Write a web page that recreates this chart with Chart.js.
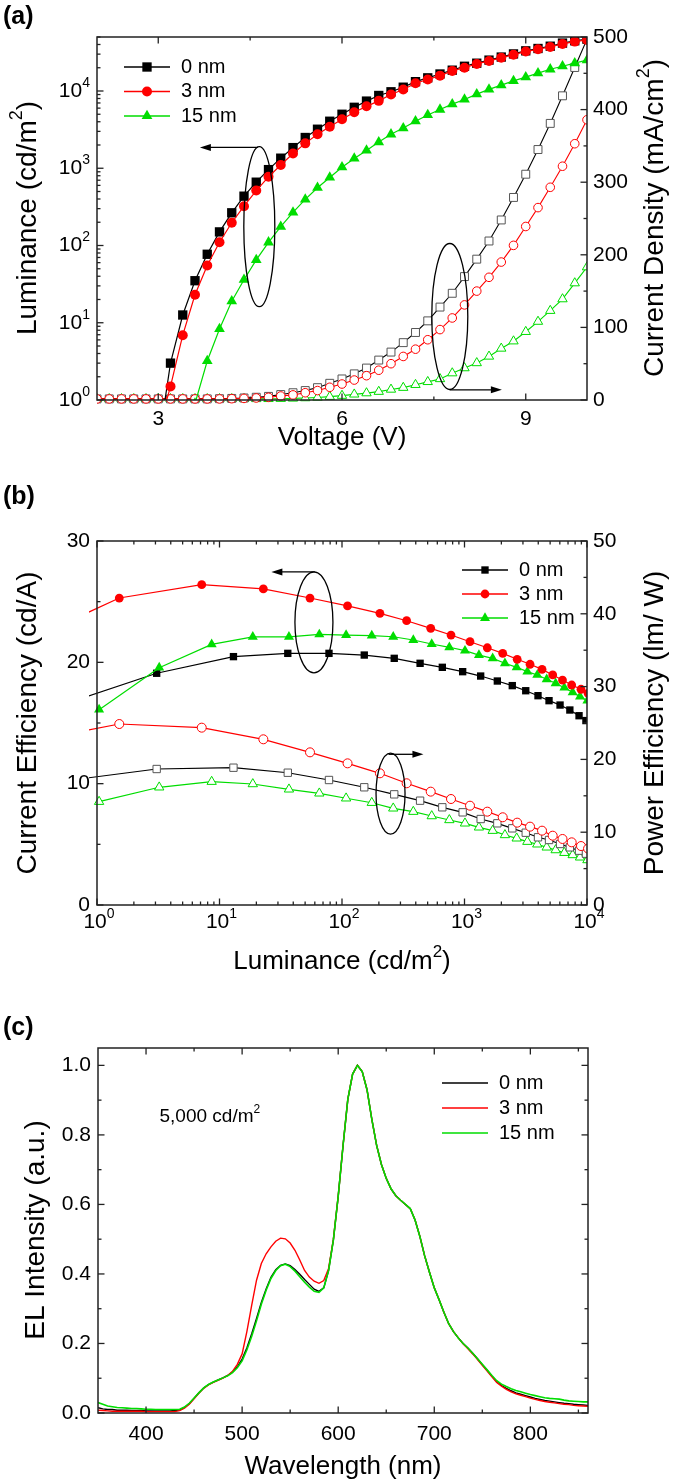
<!DOCTYPE html>
<html>
<head>
<meta charset="utf-8">
<script src="https://cdn.jsdelivr.net/npm/chart.js@4.4.1/dist/chart.umd.min.js"></script>
<style>
  html, body { margin: 0; padding: 0; background: #fff; }
  body { width: 675px; height: 1482px; position: relative; overflow: hidden; }
  canvas { position: absolute; left: 0; }
</style>
</head>
<body>
<canvas id="chartA" width="675" height="470" style="top:0px"></canvas>
<canvas id="chartB" width="675" height="530" style="top:470px"></canvas>
<canvas id="chartC" width="675" height="482" style="top:1000px"></canvas>
<script>
// ---- (a) voltage sweep -------------------------------------------------
var voltage = [2.0, 2.2, 2.4, 2.6, 2.8, 3.0, 3.2, 3.4, 3.6, 3.8, 4.0, 4.2, 4.4, 4.6, 4.8,
  5.0, 5.2, 5.4, 5.6, 5.8, 6.0, 6.2, 6.4, 6.6, 6.8, 7.0, 7.2, 7.4, 7.6, 7.8,
  8.0, 8.2, 8.4, 8.6, 8.8, 9.0, 9.2, 9.4, 9.6, 9.8, 10.0];

// luminance (cd/m2), 0 nm and 3 nm start at 3.0 V, 15 nm at 3.6 V
var lum0 = [0.26, 3.0, 12.6, 35, 77, 150, 265, 435, 660, 960, 1350, 1850, 2500, 3200, 4060,
  5000, 6150, 7400, 8750, 9770, 11200, 13200, 14800, 16600, 18600, 20900, 22900, 25100,
  27500, 30200, 33100, 35500, 38000, 41700, 44700, 46800];
var lum3 = [0.4, 1.5, 6.9, 23, 55, 110, 197, 323, 515, 775, 1100, 1550, 2100, 2750, 3450,
  4300, 5300, 6330, 7450, 9020, 10470, 12600, 14100, 15800, 18200, 20000, 22400, 24500,
  26900, 29500, 32400, 34700, 37200, 40700, 43600, 45700];
var lum15 = [0.9, 3.2, 8.3, 19, 36, 65, 110, 175, 268, 395, 560, 760, 1030, 1340, 1700,
  2180, 2750, 3310, 4070, 4900, 5750, 6760, 7760, 9120, 10500, 11900, 13500, 15100,
  17000, 19100, 20900, 22900, 25100];

// current density (mA/cm2)
var cd0 = [1.5, 1.5, 1.5, 1.5, 1.5, 1.5, 1.5, 1.5, 1.5, 1.5, 1.8, 2.2, 2.8, 3.8, 5,
  7.5, 10, 13, 17, 23, 29, 36, 44, 55, 66, 79, 93, 109, 128, 147,
  170, 194, 219, 248, 279, 311, 345, 381, 419, 458, 497];
var cd3 = [1.5, 1.5, 1.5, 1.5, 1.5, 1.5, 1.5, 1.5, 1.5, 1.5, 1.5, 1.8, 2.2, 2.8, 3.7,
  5.5, 7, 10, 13, 17.5, 22, 27.5, 33.5, 41, 50, 60, 70, 83, 97, 113,
  131, 150, 169, 190, 213, 239, 265, 293, 322, 353, 386];
var cd15 = [1.5, 1.5, 1.5, 1.5, 1.5, 1.5, 1.5, 1.5, 1.5, 1.5, 1.5, 1.5, 1.5, 1.5, 1.6,
  1.8, 2.2, 2.7, 3.5, 4.6, 6, 7.8, 9.5, 11.5, 14.5, 17, 21, 25, 29, 37,
  44, 51, 60, 71, 81, 94, 108, 123, 139, 161, 183];

// ---- (b) efficiencies vs luminance ----------------------------------------
var effLum0 = [0.26, 3.07, 13.0, 36.1, 78.3, 152, 267, 434, 659, 966, 1355, 1854, 2455,
  3162, 3981, 4898, 6026, 7244, 8610, 9800];
var ce0 = [15.5, 19.1, 20.47, 20.74, 20.74, 20.6, 20.33, 19.92, 19.59, 19.23, 18.87, 18.46,
  18.08, 17.66, 17.25, 16.84, 16.48, 16.07, 15.6, 15.2];
var pe0 = [16.35, 18.68, 18.86, 18.17, 17.17, 16.17, 15.2, 14.33, 13.42, 12.73, 11.81, 11.22,
  10.53, 9.93, 9.3, 8.93, 8.38, 7.92, 7.46, 7.05];

var effLum3 = [0.4, 1.52, 7.16, 22.8, 54.8, 111, 204, 337, 530, 776, 1109, 1535, 2051,
  2692, 3428, 4295, 5248, 6310, 7499, 8933, 10200];
var ce3 = [22.6, 25.3, 26.4, 26.05, 25.3, 24.65, 24.04, 23.43, 22.8, 22.25, 21.7, 21.2,
  20.74, 20.25, 19.84, 19.42, 18.96, 18.54, 18.13, 17.78, 17.45];
var pe3 = [22.96, 24.86, 24.36, 22.76, 20.97, 19.46, 18.09, 16.72, 15.57, 14.56, 13.64, 12.82,
  12.05, 11.31, 10.76, 10.21, 9.52, 9.07, 8.61, 8.10, 7.75];

var effLum15 = [1.04, 3.22, 8.63, 18.7, 36.9, 65.3, 108, 175, 262, 382, 540, 752, 1009,
  1312, 1698, 2138, 2667, 3258, 3926, 4688, 5546, 6531, 7638, 8770, 10080];
var ce15 = [16.1, 19.56, 21.48, 22.1, 22.1, 22.3, 22.25, 22.2, 22.11, 21.84, 21.51, 21.24,
  20.96, 20.6, 20.33, 19.92, 19.59, 19.23, 18.96, 18.6, 18.27, 17.91, 17.53, 17.17, 16.84];
var pe15 = [14.19, 16.17, 16.94, 16.62, 15.89, 15.34, 14.66, 14.05, 13.28, 12.82, 12.22, 11.68,
  11.22, 10.67, 10.21, 9.62, 9.16, 8.7, 8.34, 7.92, 7.55, 7.18, 6.87, 6.55, 6.18];

// ---- (c) EL spectra at 5,000 cd/m2 -----------------------------------------
var wavelength = [350, 355, 360, 365, 370, 375, 380, 385, 390, 395,
  400, 405, 410, 415, 420, 425, 430, 435, 440, 445,
  450, 455, 460, 465, 470, 475, 480, 485, 490, 495,
  500, 505, 510, 515, 520, 525, 530, 535, 540, 545,
  550, 555, 560, 565, 570, 575, 580, 585, 590, 595,
  600, 605, 610, 615, 620, 625, 630, 635, 640, 645,
  650, 655, 660, 665, 670, 675, 680, 685, 690, 695,
  700, 705, 710, 715, 720, 725, 730, 735, 740, 745,
  750, 755, 760, 765, 770, 775, 780, 785, 790, 795,
  800, 805, 810, 815, 820, 825, 830, 835, 840, 845,
  850, 855, 860];
var el0 = [0.015, 0.012, 0.010, 0.010, 0.008, 0.008, 0.008, 0.007, 0.007, 0.007,
  0.006, 0.006, 0.006, 0.006, 0.006, 0.006, 0.007, 0.009, 0.016, 0.027,
  0.042, 0.058, 0.072, 0.082, 0.089, 0.095, 0.101, 0.108, 0.118, 0.133,
  0.155, 0.188, 0.228, 0.272, 0.318, 0.357, 0.390, 0.412, 0.425, 0.429,
  0.424, 0.413, 0.399, 0.384, 0.370, 0.356, 0.350, 0.360, 0.410, 0.498,
  0.623, 0.768, 0.902, 0.975, 1.000, 0.982, 0.930, 0.845, 0.770, 0.715,
  0.675, 0.645, 0.625, 0.612, 0.600, 0.588, 0.555, 0.508, 0.452, 0.405,
  0.360, 0.326, 0.290, 0.257, 0.234, 0.216, 0.200, 0.187, 0.172, 0.156,
  0.139, 0.123, 0.106, 0.090, 0.079, 0.071, 0.064, 0.058, 0.054, 0.050,
  0.046, 0.042, 0.039, 0.036, 0.034, 0.032, 0.030, 0.028, 0.027, 0.025,
  0.024, 0.023, 0.022];
var el3 = [0.008, 0.007, 0.006, 0.005, 0.005, 0.005, 0.005, 0.005, 0.005, 0.005,
  0.004, 0.004, 0.004, 0.004, 0.004, 0.004, 0.004, 0.007, 0.014, 0.025,
  0.041, 0.057, 0.071, 0.081, 0.088, 0.094, 0.100, 0.108, 0.120, 0.140,
  0.170, 0.235, 0.310, 0.382, 0.430, 0.458, 0.478, 0.494, 0.503, 0.501,
  0.489, 0.468, 0.440, 0.410, 0.391, 0.379, 0.373, 0.381, 0.416, 0.500,
  0.623, 0.768, 0.902, 0.975, 1.000, 0.982, 0.930, 0.845, 0.770, 0.715,
  0.675, 0.645, 0.625, 0.612, 0.600, 0.588, 0.555, 0.508, 0.452, 0.405,
  0.360, 0.326, 0.290, 0.257, 0.234, 0.216, 0.199, 0.185, 0.170, 0.154,
  0.137, 0.121, 0.104, 0.088, 0.077, 0.068, 0.061, 0.055, 0.051, 0.047,
  0.043, 0.039, 0.036, 0.033, 0.031, 0.029, 0.027, 0.025, 0.024, 0.022,
  0.021, 0.020, 0.019];
var el15 = [0.030, 0.025, 0.020, 0.018, 0.016, 0.015, 0.014, 0.013, 0.013, 0.012,
  0.011, 0.011, 0.010, 0.010, 0.010, 0.010, 0.010, 0.011, 0.017, 0.028,
  0.043, 0.058, 0.072, 0.082, 0.089, 0.095, 0.101, 0.107, 0.116, 0.130,
  0.150, 0.182, 0.221, 0.265, 0.313, 0.353, 0.387, 0.410, 0.424, 0.428,
  0.421, 0.408, 0.392, 0.376, 0.362, 0.350, 0.347, 0.360, 0.410, 0.498,
  0.623, 0.768, 0.902, 0.975, 1.000, 0.982, 0.930, 0.845, 0.770, 0.715,
  0.675, 0.645, 0.625, 0.612, 0.600, 0.588, 0.555, 0.508, 0.452, 0.405,
  0.360, 0.326, 0.290, 0.257, 0.234, 0.216, 0.200, 0.187, 0.172, 0.156,
  0.140, 0.124, 0.108, 0.093, 0.083, 0.076, 0.070, 0.065, 0.061, 0.057,
  0.053, 0.050, 0.047, 0.044, 0.042, 0.041, 0.040, 0.037, 0.035, 0.034,
  0.033, 0.032, 0.032];

// tick values
var voltTicks = [3, 6, 9];
var decades = [1, 10, 100, 1000, 10000];
var decadeLabels = ['10^0', '10^1', '10^2', '10^3', '10^4'];
var cdTicks = [0, 100, 200, 300, 400, 500];
var ceTicks = [0, 10, 20, 30];
var peTicks = [0, 10, 20, 30, 40, 50];
var elTicks = [0, 0.2, 0.4, 0.6, 0.8, 1.0];
var waveTicks = [400, 500, 600, 700, 800];

var FONT = '"Liberation Sans", Arial, Helvetica, sans-serif';
var BLACK = '#000000', RED = '#ff0000', GREEN = '#00dd00', GREY = '#555555';
var YTITLE = 28, XTITLE = 26;
Chart.defaults.font.family = FONT;

function pts(xs, ys) {
    return ys.map(function(y, i) { return {x: xs[i], y: y}; });
}

function fixWidth(w) { return function(s) { s.width = w; }; }
function fixHeight(h) { return function(s) { s.height = h; }; }
function setTicks(list) {
    return function(s) { s.ticks = list.map(function(v) { return {value: v}; }); };
}

// minor log ticks 2..9 in each decade up to a limit
function logMinor(from, to) {
    var out = [];
    for (var d = from; d < to; d *= 10) {
        for (var k = 2; k <= 9; k++) {
            if (d * k <= to) out.push(d * k);
        }
    }
    return out;
}

function fontStr(size, bold) {
    return (bold ? 'bold ' : '') + size + 'px ' + FONT;
}

// text with '^x' superscripts
function drawRich(ctx, text, x, y, size, align, bold) {
    var parts = [], buf = '';
    for (var i = 0; i < text.length; i++) {
        if (text[i] === '^') {
            if (buf) parts.push({t: buf, sup: false});
            buf = '';
            parts.push({t: text[i + 1], sup: true});
            i++;
        } else {
            buf += text[i];
        }
    }
    if (buf) parts.push({t: buf, sup: false});
    var w = 0;
    parts.forEach(function(p) {
        ctx.font = fontStr(p.sup ? Math.round(size * 0.65) : size, bold);
        p.w = ctx.measureText(p.t).width;
        w += p.w;
    });
    var cx = align === 'center' ? x - w / 2 : (align === 'right' ? x - w : x);
    ctx.textAlign = 'left';
    ctx.textBaseline = 'middle';
    parts.forEach(function(p) {
        ctx.font = fontStr(p.sup ? Math.round(size * 0.65) : size, bold);
        ctx.fillText(p.t, cx, p.sup ? y - size * 0.38 : y);
        cx += p.w;
    });
}

function drawMarker(ctx, style, x, y, r) {
    ctx.beginPath();
    if (style === 'rect') {
        var s = Math.SQRT1_2 * r;
        ctx.rect(x - s, y - s, 2 * s, 2 * s);
    } else if (style === 'triangle') {
        ctx.moveTo(x, y - r);
        ctx.lineTo(x + Math.sin(2 * Math.PI / 3) * r, y + 0.5 * r);
        ctx.lineTo(x - Math.sin(2 * Math.PI / 3) * r, y + 0.5 * r);
        ctx.closePath();
    } else {
        ctx.arc(x, y, r, 0, Math.PI * 2);
    }
    ctx.fill();
}

// frame, inward ticks, log labels, notes, legend and titles for each panel
var decor = {};

var panelDecor = {
    id: 'panelDecor',
    afterDatasetsDraw: function(chart) {
        var d = decor[chart.canvas.id];
        if (!d) {
            return;
        }
        var ctx = chart.ctx, a = chart.chartArea;
        ctx.save();
        ctx.strokeStyle = '#222';
        ctx.fillStyle = '#000';
        ctx.lineWidth = 1.3;

        d.marks.forEach(function(m) {
            var s = chart.scales[m.scale];
            [[m.major, 6.5], [m.minor, 3.5]].forEach(function(pair) {
                pair[0].forEach(function(v) {
                    var p = s.getPixelForValue(v);
                    m.sides.forEach(function(side) {
                        ctx.beginPath();
                        if (side === 'bottom') { ctx.moveTo(p, a.bottom); ctx.lineTo(p, a.bottom - pair[1]); }
                        if (side === 'top') { ctx.moveTo(p, a.top); ctx.lineTo(p, a.top + pair[1]); }
                        if (side === 'left') { ctx.moveTo(a.left, p); ctx.lineTo(a.left + pair[1], p); }
                        if (side === 'right') { ctx.moveTo(a.right, p); ctx.lineTo(a.right - pair[1], p); }
                        ctx.stroke();
                    });
                });
            });
        });

        ctx.lineWidth = 1.5;
        ctx.strokeRect(a.left, a.top, a.right - a.left, a.bottom - a.top);

        // log-axis labels with superscripts
        (d.logLabels || []).forEach(function(l) {
            var s = chart.scales[l.scale];
            l.values.forEach(function(v, i) {
                var p = s.getPixelForValue(v);
                if (l.side === 'left') {
                    drawRich(ctx, l.texts[i], a.left - 7, p, 21, 'right');
                } else {
                    drawRich(ctx, l.texts[i], p + 2, a.bottom + 17, 21, 'center');
                }
            });
        });

        // ellipses and arrows that point each group to its axis
        ctx.lineWidth = 1.3;
        ctx.strokeStyle = '#000';
        (d.ellipses || []).forEach(function(e) {
            var cx = chart.scales[e.xs].getPixelForValue(e.x);
            var cy = chart.scales[e.ys].getPixelForValue(e.y);
            ctx.beginPath();
            ctx.ellipse(cx, cy, e.rx, e.ry, 0, 0, Math.PI * 2);
            ctx.stroke();
        });
        (d.arrows || []).forEach(function(r) {
            var xs = chart.scales[r.xs], ys = chart.scales[r.ys];
            var x1 = xs.getPixelForValue(r.x1), x2 = xs.getPixelForValue(r.x2);
            var y = ys.getPixelForValue(r.y);
            var dir = x2 > x1 ? 1 : -1;
            ctx.beginPath();
            ctx.moveTo(x1, y);
            ctx.lineTo(x2 - dir * 8, y);
            ctx.stroke();
            ctx.beginPath();
            ctx.moveTo(x2, y);
            ctx.lineTo(x2 - dir * 11, y - 3.5);
            ctx.lineTo(x2 - dir * 11, y + 3.5);
            ctx.closePath();
            ctx.fill();
        });

        (d.notes || []).forEach(function(n) {
            var x = chart.scales[n.xs].getPixelForValue(n.x);
            var y = chart.scales[n.ys].getPixelForValue(n.y);
            drawRich(ctx, n.text, x, y, n.size, 'left');
        });

        // legend
        var lg = d.legend;
        lg.items.forEach(function(it, i) {
            var y = lg.y + i * lg.gap;
            ctx.strokeStyle = it.color;
            ctx.lineWidth = it.width || 1.3;
            ctx.beginPath();
            ctx.moveTo(lg.x0, y);
            ctx.lineTo(lg.x1, y);
            ctx.stroke();
            if (it.style) {
                ctx.fillStyle = it.color;
                drawMarker(ctx, it.style, (lg.x0 + lg.x1) / 2, y, it.r);
            }
            ctx.fillStyle = '#000';
            drawRich(ctx, it.label, lg.tx, y, 20, 'left');
        });

        // panel letter and axis titles
        d.texts.forEach(function(t) {
            ctx.save();
            ctx.translate(t.x, t.y);
            if (t.rot) ctx.rotate(t.rot);
            drawRich(ctx, t.text, 0, 0, t.size, t.align || 'center', t.bold);
            ctx.restore();
        });
        ctx.restore();
    }
};

function baseOptions(padTop, padRight) {
    return {
        responsive: false,
        animation: false,
        devicePixelRatio: 1,
        layout: {padding: {top: padTop, left: 0, right: padRight, bottom: 0}},
        plugins: {legend: {display: false}, tooltip: {enabled: false}},
        elements: {line: {tension: 0}}
    };
}

var tickFont = {family: FONT, size: 21};
var noGrid = {display: false, drawTicks: false};

// ================= (a) =================
decor.chartA = {
    marks: [
        {scale: 'x', major: voltTicks, minor: [4.5, 7.5], sides: ['bottom', 'top']},
        {scale: 'yL', major: decades, minor: logMinor(1, 50000), sides: ['left']},
        {scale: 'yR', major: cdTicks, minor: [50, 150, 250, 350, 450], sides: ['right']}
    ],
    logLabels: [{scale: 'yL', values: decades, texts: decadeLabels, side: 'left'}],
    ellipses: [
        {xs: 'x', ys: 'yL', x: 4.65, y: 175, rx: 15.5, ry: 80},
        {xs: 'x', ys: 'yR', x: 7.76, y: 115, rx: 18, ry: 73}
    ],
    arrows: [
        {xs: 'x', ys: 'yL', x1: 4.63, x2: 3.68, y: 1860},
        {xs: 'x', ys: 'yR', x1: 7.76, x2: 8.61, y: 14}
    ],
    legend: {x0: 124, x1: 170, tx: 181, y: 67, gap: 24.5, items: [
        {label: '0 nm', color: BLACK, style: 'rect', r: 6.6},
        {label: '3 nm', color: RED, style: 'circle', r: 5},
        {label: '15 nm', color: GREEN, style: 'triangle', r: 6.2}
    ]},
    texts: [
        {text: '(a)', x: 3, y: 17, size: 25, bold: true, align: 'left'},
        {text: 'Luminance (cd/m^2)', x: 28, y: 218, size: YTITLE, rot: -Math.PI / 2},
        {text: 'Current Density (mA/cm^2)', x: 655, y: 218, size: YTITLE, rot: -Math.PI / 2},
        {text: 'Voltage (V)', x: 342, y: 438, size: XTITLE}
    ]
};

var optsA = baseOptions(37, 0);
optsA.scales = {
    x: {type: 'linear', min: 2, max: 10, position: 'bottom',
        grid: noGrid, border: {display: false},
        ticks: {font: tickFont, color: '#000', padding: 7},
        afterBuildTicks: setTicks(voltTicks), afterFit: fixHeight(70)},
    yL: {type: 'logarithmic', min: 1, max: 50000, position: 'left',
        grid: noGrid, border: {display: false}, ticks: {display: false},
        afterBuildTicks: setTicks(decades), afterFit: fixWidth(97)},
    yR: {type: 'linear', min: 0, max: 500, position: 'right',
        grid: noGrid, border: {display: false},
        ticks: {font: tickFont, color: '#000', padding: 6},
        afterBuildTicks: setTicks(cdTicks), afterFit: fixWidth(88)}
};

var lumClip = {left: 0, top: 0, right: 0, bottom: 0};
var cdClip = {left: 0, top: 0, right: 0, bottom: 8};

new Chart(document.getElementById('chartA'), {
    type: 'line',
    data: {datasets: [
        {data: pts(voltage.slice(5), lum3), yAxisID: 'yL', borderColor: RED, borderWidth: 1.2,
            pointStyle: 'circle', pointRadius: 5, pointBackgroundColor: RED, pointBorderWidth: 0, clip: lumClip},
        {data: pts(voltage.slice(5), lum0), yAxisID: 'yL', borderColor: BLACK, borderWidth: 1.2,
            pointStyle: 'rect', pointRadius: 6.6, pointBackgroundColor: BLACK, pointBorderWidth: 0, clip: lumClip},
        {data: pts(voltage.slice(8), lum15), yAxisID: 'yL', borderColor: GREEN, borderWidth: 1.2,
            pointStyle: 'triangle', pointRadius: 6.2, pointBackgroundColor: GREEN, pointBorderWidth: 0, clip: lumClip},
        {data: pts(voltage, cd3), yAxisID: 'yR', borderColor: RED, borderWidth: 1.1,
            pointStyle: 'circle', pointRadius: 4.3, pointBackgroundColor: '#fff', pointBorderColor: RED,
            pointBorderWidth: 1, clip: cdClip},
        {data: pts(voltage, cd0), yAxisID: 'yR', borderColor: BLACK, borderWidth: 1.1,
            pointStyle: 'rect', pointRadius: 5.6, pointBackgroundColor: '#fff', pointBorderColor: GREY,
            pointBorderWidth: 1, clip: cdClip},
        {data: pts(voltage, cd15), yAxisID: 'yR', borderColor: GREEN, borderWidth: 1.1,
            pointStyle: 'triangle', pointRadius: 5.4, pointBackgroundColor: '#fff', pointBorderColor: GREEN,
            pointBorderWidth: 1, clip: cdClip}
    ]},
    options: optsA,
    plugins: [panelDecor]
});

// ================= (b) =================
decor.chartB = {
    marks: [
        {scale: 'x', major: decades, minor: logMinor(1, 10000), sides: ['bottom', 'top']},
        {scale: 'yL', major: ceTicks, minor: [5, 15, 25], sides: ['left']},
        {scale: 'yR', major: peTicks, minor: [5, 15, 25, 35, 45], sides: ['right']}
    ],
    logLabels: [{scale: 'x', values: decades, texts: decadeLabels, side: 'bottom'}],
    ellipses: [
        {xs: 'x', ys: 'yL', x: 59, y: 23.3, rx: 19, ry: 50.5},
        {xs: 'x', ys: 'yR', x: 249, y: 15.3, rx: 14.5, ry: 40.5}
    ],
    arrows: [
        {xs: 'x', ys: 'yL', x1: 60, x2: 26.5, y: 27.45},
        {xs: 'x', ys: 'yR', x1: 240, x2: 462, y: 20.7}
    ],
    legend: {x0: 462, x1: 508, tx: 519, y: 100, gap: 24, items: [
        {label: '0 nm', color: BLACK, style: 'rect', r: 5.2},
        {label: '3 nm', color: RED, style: 'circle', r: 4.4},
        {label: '15 nm', color: GREEN, style: 'triangle', r: 5.8}
    ]},
    texts: [
        {text: '(b)', x: 3, y: 27, size: 25, bold: true, align: 'left'},
        {text: 'Current Efficiency (cd/A)', x: 28, y: 253, size: YTITLE, rot: -Math.PI / 2},
        {text: 'Power Efficiency (lm/ W)', x: 655, y: 253, size: YTITLE, rot: -Math.PI / 2},
        {text: 'Luminance (cd/m^2)', x: 342, y: 492, size: XTITLE}
    ]
};

var optsB = baseOptions(71, 0);
optsB.scales = {
    x: {type: 'logarithmic', min: 1, max: 10000, position: 'bottom',
        grid: noGrid, border: {display: false}, ticks: {display: false},
        afterBuildTicks: setTicks(decades), afterFit: fixHeight(95)},
    yL: {type: 'linear', min: 0, max: 30, position: 'left',
        grid: noGrid, border: {display: false},
        ticks: {font: tickFont, color: '#000', padding: 7},
        afterBuildTicks: setTicks(ceTicks), afterFit: fixWidth(97)},
    yR: {type: 'linear', min: 0, max: 50, position: 'right',
        grid: noGrid, border: {display: false},
        ticks: {font: tickFont, color: '#000', padding: 6},
        afterBuildTicks: setTicks(peTicks), afterFit: fixWidth(88)}
};

var effClip = {left: 8, top: 0, right: 0, bottom: 0};

new Chart(document.getElementById('chartB'), {
    type: 'line',
    data: {datasets: [
        {data: pts(effLum3, ce3), yAxisID: 'yL', borderColor: RED, borderWidth: 1.2,
            pointStyle: 'circle', pointRadius: 4.4, pointBackgroundColor: RED, pointBorderWidth: 0, clip: effClip},
        {data: pts(effLum15, ce15), yAxisID: 'yL', borderColor: GREEN, borderWidth: 1.2,
            pointStyle: 'triangle', pointRadius: 5.8, pointBackgroundColor: GREEN, pointBorderWidth: 0, clip: effClip},
        {data: pts(effLum0, ce0), yAxisID: 'yL', borderColor: BLACK, borderWidth: 1.2,
            pointStyle: 'rect', pointRadius: 5.2, pointBackgroundColor: BLACK, pointBorderWidth: 0, clip: effClip},
        {data: pts(effLum3, pe3), yAxisID: 'yR', borderColor: RED, borderWidth: 1.2,
            pointStyle: 'circle', pointRadius: 4.5, pointBackgroundColor: '#fff', pointBorderColor: RED,
            pointBorderWidth: 1, clip: effClip},
        {data: pts(effLum0, pe0), yAxisID: 'yR', borderColor: BLACK, borderWidth: 1.2,
            pointStyle: 'rect', pointRadius: 5.2, pointBackgroundColor: '#fff', pointBorderColor: GREY,
            pointBorderWidth: 1, clip: effClip},
        {data: pts(effLum15, pe15), yAxisID: 'yR', borderColor: GREEN, borderWidth: 1.2,
            pointStyle: 'triangle', pointRadius: 5.4, pointBackgroundColor: '#fff', pointBorderColor: GREEN,
            pointBorderWidth: 1, clip: effClip}
    ]},
    options: optsB,
    plugins: [panelDecor]
});

// ================= (c) =================
decor.chartC = {
    marks: [
        {scale: 'x', major: waveTicks, minor: [450, 550, 650, 750, 850], sides: ['bottom', 'top']},
        {scale: 'y', major: elTicks, minor: [0.1, 0.3, 0.5, 0.7, 0.9], sides: ['left', 'right']}
    ],
    notes: [{xs: 'x', ys: 'y', x: 414, y: 0.853, text: '5,000 cd/m^2', size: 19}],
    legend: {x0: 442, x1: 488, tx: 499, y: 83, gap: 25, items: [
        {label: '0 nm', color: BLACK},
        {label: '3 nm', color: RED},
        {label: '15 nm', color: GREEN, width: 1.6}
    ]},
    texts: [
        {text: '(c)', x: 3, y: 28, size: 25, bold: true, align: 'left'},
        {text: 'EL Intensity (a.u.)', x: 36, y: 230, size: YTITLE, rot: -Math.PI / 2},
        {text: 'Wavelength (nm)', x: 343, y: 467, size: XTITLE}
    ]
};

var optsC = baseOptions(48, 87);
optsC.scales = {
    x: {type: 'linear', min: 350, max: 860, position: 'bottom',
        grid: noGrid, border: {display: false},
        ticks: {font: tickFont, color: '#000', padding: 9},
        afterBuildTicks: setTicks(waveTicks), afterFit: fixHeight(69)},
    y: {type: 'linear', min: 0, max: 1.05, position: 'left',
        grid: noGrid, border: {display: false},
        ticks: {font: tickFont, color: '#000', padding: 7,
            callback: function(v) { return v.toFixed(1); }},
        afterBuildTicks: setTicks(elTicks), afterFit: fixWidth(98)}
};

new Chart(document.getElementById('chartC'), {
    type: 'line',
    data: {datasets: [
        {data: pts(wavelength, el15), borderColor: GREEN, borderWidth: 1.6, pointRadius: 0},
        {data: pts(wavelength, el3), borderColor: RED, borderWidth: 1.4, pointRadius: 0},
        {data: pts(wavelength, el0), borderColor: BLACK, borderWidth: 1.4, pointRadius: 0}
    ]},
    options: optsC,
    plugins: [panelDecor]
});
</script>
</body>
</html>
